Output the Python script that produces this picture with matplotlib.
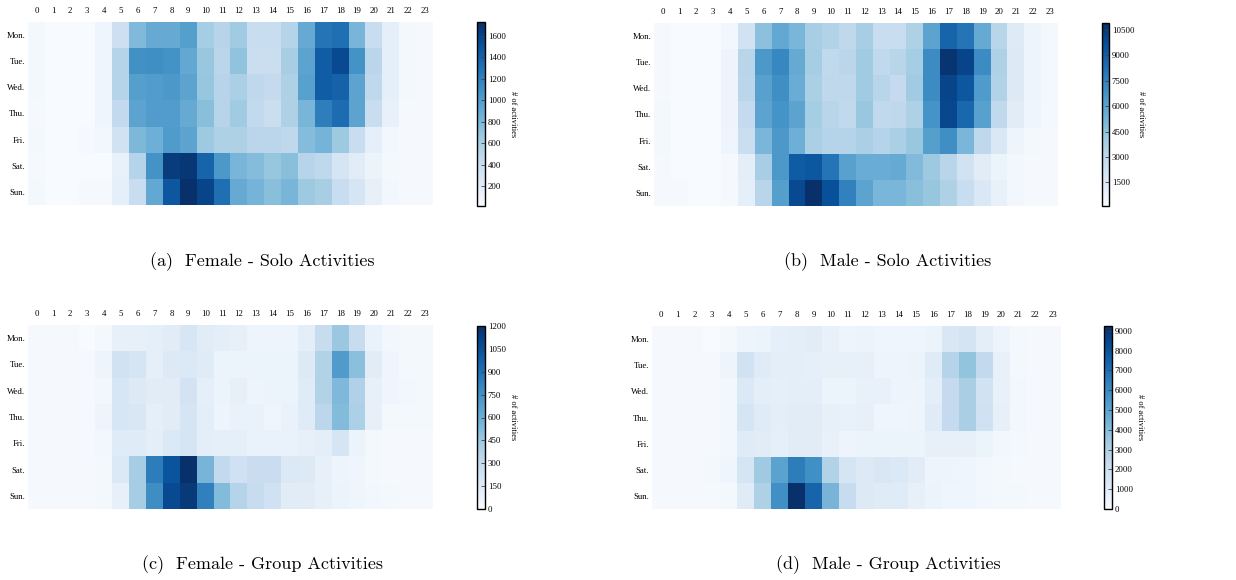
import numpy as np
import matplotlib
matplotlib.use("Agg")
import matplotlib.pyplot as plt
from matplotlib.ticker import MultipleLocator

days = ["Mon.", "Tue.", "Wed.", "Thu.", "Fri.", "Sat.", "Sun."]
hours = [str(h) for h in range(24)]

female_solo = [
    [52, 17, 17, 17, 87, 380, 780, 900, 900, 985, 620, 520, 640, 415, 415, 535, 900, 1280, 1315, 815, 415, 173, 52, 35],
    [52, 17, 17, 17, 87, 535, 1090, 1105, 1075, 915, 675, 500, 710, 400, 400, 605, 950, 1435, 1560, 1075, 500, 173, 52, 35],
    [52, 17, 17, 17, 87, 535, 985, 1005, 1040, 950, 690, 520, 590, 485, 450, 570, 970, 1435, 1400, 950, 485, 173, 52, 35],
    [35, 17, 17, 17, 87, 465, 950, 1005, 1005, 900, 745, 520, 640, 465, 400, 570, 815, 1210, 1330, 950, 415, 140, 35, 35],
    [52, 17, 17, 35, 70, 345, 795, 865, 1020, 950, 655, 570, 570, 500, 500, 485, 760, 830, 655, 415, 173, 70, 35, 35],
    [35, 17, 17, 17, 17, 140, 535, 1075, 1645, 1680, 1385, 1040, 815, 760, 690, 745, 520, 485, 310, 210, 120, 52, 35, 35],
    [52, 17, 17, 35, 35, 173, 415, 915, 1470, 1730, 1590, 1315, 900, 830, 745, 815, 655, 605, 415, 310, 155, 70, 35, 35],
]

male_solo = [
    [220, 110, 110, 110, 440, 2180, 4580, 5780, 5120, 3820, 3490, 3050, 3820, 2620, 2620, 3600, 6000, 8720, 8070, 5670, 3270, 1420, 650, 330],
    [220, 110, 110, 110, 650, 3270, 6540, 7300, 5670, 3920, 2940, 3160, 4030, 2940, 3270, 3920, 7090, 10680, 10030, 7090, 3600, 1530, 650, 330],
    [220, 110, 110, 110, 650, 3160, 6100, 6980, 5560, 3710, 3050, 3050, 4030, 3270, 2830, 4030, 7090, 10030, 9270, 6430, 3490, 1530, 650, 330],
    [330, 110, 110, 110, 650, 2830, 6000, 6760, 6000, 3920, 3270, 2940, 4250, 2940, 3050, 3600, 6760, 9920, 8610, 6100, 2940, 1310, 550, 330],
    [330, 110, 110, 110, 550, 2510, 5120, 6540, 5450, 3710, 3380, 3380, 3710, 3380, 3710, 4250, 6210, 6980, 5120, 3050, 1640, 650, 330, 220],
    [220, 110, 110, 110, 220, 1200, 3820, 6540, 9050, 9270, 8070, 6100, 5560, 5560, 5670, 4910, 4140, 3270, 2180, 1310, 760, 440, 220, 220],
    [220, 220, 110, 110, 220, 1090, 3270, 6210, 9810, 10900, 9590, 7520, 6000, 5120, 5120, 4690, 4360, 3600, 2620, 1640, 870, 440, 220, 220],
]

female_group = [
    [12, 12, 12, 0, 24, 96, 96, 108, 132, 192, 132, 120, 96, 60, 60, 60, 120, 288, 456, 288, 84, 36, 24, 24],
    [12, 12, 12, 12, 60, 228, 204, 108, 156, 168, 144, 72, 72, 72, 72, 72, 156, 372, 696, 504, 132, 48, 24, 24],
    [12, 12, 12, 12, 36, 192, 156, 132, 132, 216, 108, 72, 96, 60, 72, 72, 144, 372, 540, 384, 96, 48, 36, 24],
    [12, 12, 12, 12, 60, 192, 180, 108, 132, 204, 120, 60, 84, 84, 48, 84, 144, 336, 528, 396, 96, 24, 24, 24],
    [12, 12, 12, 12, 36, 144, 144, 120, 168, 204, 120, 108, 108, 84, 84, 84, 96, 120, 204, 72, 24, 12, 12, 12],
    [12, 12, 12, 12, 24, 168, 420, 840, 1032, 1200, 564, 312, 240, 276, 276, 168, 156, 96, 60, 48, 24, 12, 12, 12],
    [12, 12, 12, 12, 24, 96, 420, 768, 1080, 1152, 828, 528, 360, 288, 240, 132, 132, 96, 72, 48, 36, 24, 12, 12],
]

male_group = [
    [90, 90, 90, 0, 180, 460, 550, 830, 920, 1020, 650, 460, 550, 370, 370, 370, 550, 1390, 1660, 920, 460, 180, 90, 90],
    [90, 90, 90, 90, 460, 1760, 1110, 920, 920, 830, 740, 740, 740, 460, 460, 550, 1110, 2770, 3700, 2400, 650, 180, 90, 90],
    [90, 90, 90, 90, 280, 1290, 920, 830, 920, 920, 550, 550, 650, 650, 460, 460, 920, 2310, 3140, 1760, 650, 280, 90, 90],
    [90, 90, 90, 90, 280, 1570, 1110, 920, 1020, 1020, 740, 650, 740, 370, 370, 460, 1110, 2310, 3140, 1850, 740, 280, 90, 90],
    [90, 90, 90, 90, 280, 1110, 1020, 830, 1020, 1020, 650, 460, 550, 550, 550, 550, 740, 740, 740, 550, 280, 180, 90, 90],
    [90, 90, 90, 180, 370, 1570, 3420, 5080, 6470, 5820, 2860, 1570, 1200, 1390, 1290, 1020, 460, 460, 370, 280, 180, 90, 90, 90],
    [90, 90, 90, 90, 180, 1110, 2960, 5820, 9240, 7390, 4340, 2220, 1200, 1110, 1110, 740, 550, 370, 370, 280, 180, 180, 90, 90],
]

captions = ["(a)  Female - Solo Activities", "(b)  Male - Solo Activities",
            "(c)  Female - Group Activities", "(d)  Male - Group Activities"]
cbar_steps = [200, 1500, 150, 1000]

W, H = 1236, 580
fig = plt.figure(figsize=(W / 100, H / 100), dpi=100)

def fr(x0, y0, x1, y1):
    return [x0 / W, 1 - y1 / H, (x1 - x0) / W, (y1 - y0) / H]

panels = [
    (female_solo, fr(28, 22, 433, 205), fr(477, 22, 485, 206), (262, 262)),
    (male_solo, fr(654, 23, 1058, 206), fr(1102, 23, 1109, 206), (888, 262)),
    (female_group, fr(28, 325, 433, 509), fr(477, 326, 485, 509), (262, 565)),
    (male_group, fr(652, 326, 1061, 509), fr(1104, 326, 1112, 509), (888, 565)),
]

serif = ["Liberation Serif", "DejaVu Serif"]

for i, (data, axpos, cpos, cap) in enumerate(panels):
    arr = np.array(data, dtype=float)
    ax = fig.add_axes(axpos)
    kw = {}
    if i >= 2:
        kw["vmin"] = 0
    im = ax.imshow(arr, cmap="Blues", aspect="auto", interpolation="nearest", **kw)
    ax.set_xticks(range(len(hours)))
    ax.set_xticklabels(hours, fontsize=6.3, family=serif)
    ax.set_yticks(range(len(days)))
    ax.set_yticklabels(days, fontsize=6.3, family=serif)
    ax.xaxis.tick_top()
    ax.tick_params(axis="both", length=0)
    ax.tick_params(axis="x", pad=5)
    ax.tick_params(axis="y", pad=2)
    for s in ax.spines.values():
        s.set_visible(False)

    cax = fig.add_axes(cpos)
    cb = fig.colorbar(im, cax=cax)
    cb.locator = MultipleLocator(cbar_steps[i])
    cb.update_ticks()
    cax.tick_params(direction="in", length=3, width=0.6, labelsize=6.3, pad=2, color="#444444")
    for lbl in cax.get_yticklabels():
        lbl.set_family(serif)
    cb.outline.set_linewidth(1.0)
    cb.set_label("# of activities", rotation=270, fontsize=6, family=serif, labelpad=8)

    fig.text(cap[0] / W, 1 - cap[1] / H, captions[i], ha="center", va="center",
             fontsize=13, family=["cmr10", "DejaVu Serif"])

fig.savefig("out.png", dpi=100)
